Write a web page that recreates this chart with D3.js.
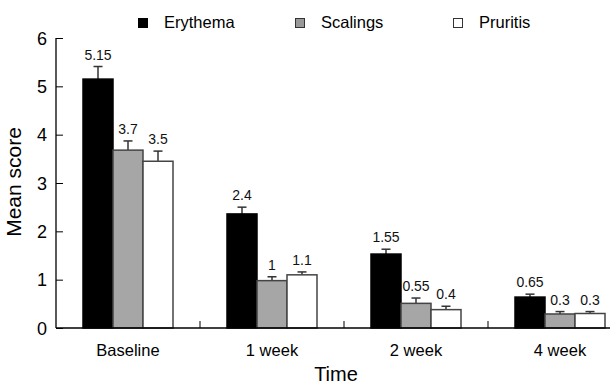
<!DOCTYPE html>
<html>
<head>
<meta charset="utf-8">
<script src="https://cdn.jsdelivr.net/npm/d3@7"></script>
<style>
  html, body { margin: 0; padding: 0; background: #fff; }
  svg { display: block; font-family: Arial, "Liberation Sans", Helvetica, sans-serif; }
</style>
</head>
<body>
<svg id="chart" width="610" height="385"></svg>
<script>
// ---- data ----
const categories = ["Baseline", "1 week", "2 week", "4 week"];
const seriesNames = ["Erythema", "Scalings", "Pruritis"];
const erythema = [5.15, 2.36, 1.53, 0.64];
const scalings = [3.68, 0.98, 0.51, 0.29];
const pruritis = [3.45, 1.10, 0.38, 0.30];
const erythemaErr = [0.26, 0.14, 0.10, 0.06];
const scalingsErr = [0.19, 0.08, 0.11, 0.05];
const pruritisErr = [0.21, 0.06, 0.07, 0.04];
const erythemaLabels = ["5.15", "2.4", "1.55", "0.65"];
const scalingsLabels = ["3.7", "1", "0.55", "0.3"];
const pruritisLabels = ["3.5", "1.1", "0.4", "0.3"];
const yTicks = [0, 1, 2, 3, 4, 5, 6];

const seriesValues = [erythema, scalings, pruritis];
const seriesErrs = [erythemaErr, scalingsErr, pruritisErr];
const seriesLabels = [erythemaLabels, scalingsLabels, pruritisLabels];
const fills = ["#000000", "#a6a6a6", "#ffffff"];

const svg = d3.select("#chart");
const mLeft = 56, mTop = 38, mBottom = 328, bandW = 144;

const x = d3.scaleBand().domain(categories).range([mLeft, mLeft + bandW * categories.length]);
const barW = 30;
const inner = d3.scaleBand().domain(seriesNames).range([(bandW - barW * 3) / 2, (bandW + barW * 3) / 2]);
const y = d3.scaleLinear().domain([0, 6]).range([mBottom, mTop]);

// bars
seriesNames.forEach((s, si) => {
  const g = svg.append("g");
  categories.forEach((c, ci) => {
    const v = seriesValues[si][ci];
    const e = seriesErrs[si][ci];
    const bx = x(c) + inner(s);
    const cx = bx + inner.bandwidth() / 2;
    g.append("line").attr("x1", cx).attr("x2", cx).attr("y1", y(v)).attr("y2", y(v + e))
      .attr("stroke", "#333").attr("stroke-width", 1.5);
    g.append("line").attr("x1", cx - 4.5).attr("x2", cx + 4.5).attr("y1", y(v + e)).attr("y2", y(v + e))
      .attr("stroke", "#333").attr("stroke-width", 1.5);
    g.append("rect").attr("x", bx).attr("y", y(v)).attr("width", inner.bandwidth()).attr("height", y(0) - y(v))
      .attr("fill", fills[si]).attr("stroke", si === 0 ? "#000" : "#444").attr("stroke-width", 1.5);
    g.append("text").attr("x", cx).attr("y", y(v + e) - 7).attr("text-anchor", "middle")
      .attr("font-size", 14).attr("fill", "#111").text(seriesLabels[si][ci]);
  });
});

// y axis
const yAxis = d3.axisRight(y).tickValues(yTicks).tickSize(7).tickFormat("");
const ya = svg.append("g").attr("transform", `translate(${mLeft},0)`).call(yAxis);
ya.select(".domain").attr("d", `M0,${mTop}V${mBottom}`).attr("stroke", "#000").attr("stroke-width", 1.3);
ya.selectAll(".tick line").attr("stroke", "#000").attr("stroke-width", 1);
svg.append("g").selectAll("text").data(yTicks).join("text")
  .attr("x", 47).attr("y", d => y(d) + 6.5).attr("text-anchor", "end")
  .attr("font-size", 18).attr("fill", "#000").text(d => d);

// x axis
svg.append("line").attr("x1", mLeft).attr("x2", 610).attr("y1", mBottom).attr("y2", mBottom)
  .attr("stroke", "#000").attr("stroke-width", 1.5);
svg.append("g").selectAll("line").data(categories.slice(1)).join("line")
  .attr("x1", d => x(d)).attr("x2", d => x(d)).attr("y1", mBottom).attr("y2", mBottom - 7)
  .attr("stroke", "#000").attr("stroke-width", 1);
svg.append("g").selectAll("text").data(categories).join("text")
  .attr("x", d => x(d) + x.bandwidth() / 2).attr("y", 356).attr("text-anchor", "middle")
  .attr("font-size", 16.5).attr("fill", "#000").text(d => d);

// axis titles
svg.append("text").attr("x", 336).attr("y", 381).attr("text-anchor", "middle")
  .attr("font-size", 20).attr("fill", "#000").text("Time");
svg.append("text").attr("transform", "translate(21,182) rotate(-90)").attr("text-anchor", "middle")
  .attr("font-size", 21).attr("fill", "#000").text("Mean score");

// legend
const legX = [138, 295, 453];
const legFill = ["#000", "#999", "#fff"];
seriesNames.forEach((s, i) => {
  svg.append("rect").attr("x", legX[i] + 0.5).attr("y", 18.5).attr("width", 9).attr("height", 9)
    .attr("fill", legFill[i]).attr("stroke", i === 0 ? "#000" : "#333").attr("stroke-width", 1);
  svg.append("text").attr("x", legX[i] + 26).attr("y", 28).attr("font-size", 16.5).attr("fill", "#000").text(s);
});
</script>
</body>
</html>
